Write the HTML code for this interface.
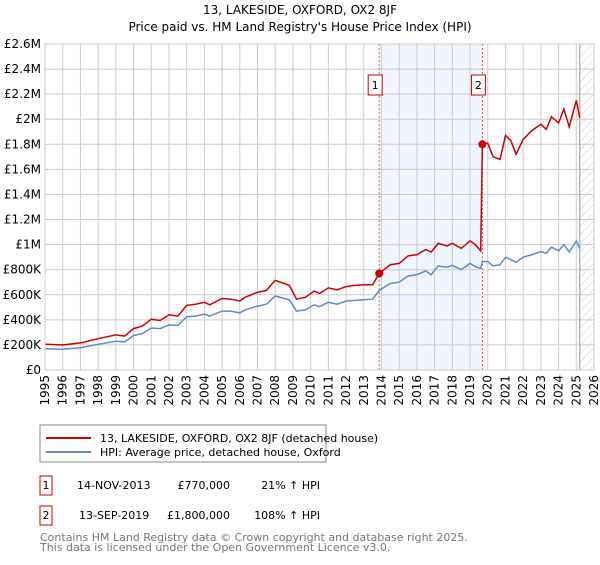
<!DOCTYPE html>
<html><head><meta charset="utf-8"><style>
body{margin:0;background:#fff;font-family:"Liberation Sans","DejaVu Sans",sans-serif;}
svg text{font-family:"DejaVu Sans","Liberation Sans",sans-serif;}
</style></head><body>
<svg id="c" width="600" height="560" xmlns="http://www.w3.org/2000/svg">
<defs><pattern id="hatch" width="6" height="6" patternUnits="userSpaceOnUse" patternTransform="rotate(45)"><line x1="0" y1="0" x2="0" y2="6" stroke="#ccc" stroke-width="1"/></pattern></defs>
<text x="300" y="14" text-anchor="middle" font-size="12">13, LAKESIDE, OXFORD, OX2 8JF</text>
<text x="300" y="31" text-anchor="middle" font-size="12">Price paid vs. HM Land Registry's House Price Index (HPI)</text>
<g id="plot"></g>
<rect x="40" y="425" width="286" height="37" fill="#fff" stroke="#888"/>
<line x1="46" y1="438" x2="91" y2="438" stroke="#cc0000" stroke-width="2"/>
<text x="100" y="442" font-size="11">13, LAKESIDE, OXFORD, OX2 8JF (detached house)</text>
<line x1="46" y1="452" x2="91" y2="452" stroke="#5b8bd0" stroke-width="2"/>
<text x="100" y="456" font-size="11">HPI: Average price, detached house, Oxford</text>
<g font-size="11">
<rect x="40" y="476" width="12" height="19" fill="#fff" stroke="#cc0000"/>
<text x="46" y="489" text-anchor="middle">1</text>
<text x="77" y="489">14-NOV-2013</text>
<text x="230" y="489" text-anchor="end">£770,000</text>
<text x="320" y="489" text-anchor="end">21% ↑ HPI</text>
<rect x="40" y="506" width="12" height="19" fill="#fff" stroke="#cc0000"/>
<text x="46" y="519" text-anchor="middle">2</text>
<text x="79" y="519">13-SEP-2019</text>
<text x="230" y="519" text-anchor="end">£1,800,000</text>
<text x="320" y="519" text-anchor="end">108% ↑ HPI</text>
</g>
<text x="40" y="541" font-size="11" fill="#777">Contains HM Land Registry data © Crown copyright and database right 2025.</text>
<text x="40" y="551" font-size="11" fill="#777">This data is licensed under the Open Government Licence v3.0.</text>
</svg>
<script>
const dates=[1995,1996,1997,1998,1999,1999.5,2000,2000.5,2001,2001.5,2002,2002.5,2003,2003.5,2004,2004.3,2005,2005.5,2006,2006.3,2007,2007.5,2008,2008.5,2008.8,2009.2,2009.7,2010.2,2010.5,2011,2011.5,2012,2012.5,2013,2013.5,2013.87,2014.5,2015,2015.5,2016,2016.5,2016.8,2017.2,2017.7,2018,2018.5,2019,2019.3,2019.6,2019.7,2020,2020.3,2020.7,2021,2021.3,2021.6,2022,2022.5,2023,2023.3,2023.6,2024,2024.3,2024.6,2025,2025.2];
const hpi=[170,165,178,205,230,225,275,290,335,330,360,355,425,430,445,430,470,470,455,480,510,525,590,570,560,470,480,520,505,540,525,550,555,560,565,636,690,700,750,760,790,760,830,820,835,800,850,825,810,865,865,830,840,900,880,860,900,920,945,930,980,950,1000,940,1030,970];
const property=[206,200,215,250,280,270,330,350,405,395,440,430,515,525,540,520,570,565,550,580,620,635,715,690,675,565,580,630,610,655,640,665,675,680,680,770,840,850,910,920,960,940,1010,990,1010,970,1030,1000,950,1800,1810,1700,1680,1870,1830,1720,1840,1910,1960,1920,2020,1970,2080,1940,2150,2010];
const salesX=[2013.87,2019.7];
const salesY=[770,1800];
const yTicks=[0,200,400,600,800,1000,1200,1400,1600,1800,2000,2200,2400,2600];
const yLabels=["£0","£200K","£400K","£600K","£800K","£1M","£1.2M","£1.4M","£1.6M","£1.8M","£2M","£2.2M","£2.4M","£2.6M"];
const xYears=[1995,1996,1997,1998,1999,2000,2001,2002,2003,2004,2005,2006,2007,2008,2009,2010,2011,2012,2013,2014,2015,2016,2017,2018,2019,2020,2021,2022,2023,2024,2025,2026];
const X0=45,X1=594,Y0=370,Y1=44;
const sx=v=>X0+(v-1995)/31*(X1-X0);
const sy=v=>Y0-v/2600*(Y0-Y1);
const NS="http://www.w3.org/2000/svg";
const g=document.getElementById('plot');
function mk(t,a){const e=document.createElementNS(NS,t);for(const k in a)e.setAttribute(k,a[k]);g.appendChild(e);return e;}
let e=mk('rect',{x:sx(salesX[0]),y:Y1,width:sx(salesX[1])-sx(salesX[0]),height:Y0-Y1,fill:'#eef2fc',opacity:0.8});


e=mk('rect',{x:sx(2025.2),y:Y1,width:X1-sx(2025.2),height:Y0-Y1,fill:'url(#hatch)'});


yTicks.forEach((t,i)=>{
 let l=mk('line',{x1:X0,x2:X1,y1:sy(t),y2:sy(t),stroke:'#ccc','stroke-width':1});
 
 
 let tx=mk('text',{x:X0-4,y:sy(t)+4,'text-anchor':'end','font-size':12});
 tx.textContent=yLabels[i];
 
 
});
xYears.forEach(yr=>{
 let l=mk('line',{x1:sx(yr),x2:sx(yr),y1:Y1,y2:Y0,stroke:'#ccc','stroke-width':1});
 
 
 const lx=sx(yr)+4, ly=Y0+5;
 let tx=mk('text',{x:lx,y:ly,'text-anchor':'end','font-size':12,transform:'rotate(-90 '+lx.toFixed(1)+' '+ly+')'});
 tx.textContent=yr;
 
 
});
e=mk('line',{x1:sx(2025.2),x2:sx(2025.2),y1:Y1,y2:Y0,stroke:'#999','stroke-width':1});


salesX.forEach((d,i)=>{
 let l=mk('line',{x1:sx(d),x2:sx(d),y1:Y1,y2:Y0,stroke:'#e06060','stroke-width':1,'stroke-dasharray':'2,2'});
 
 
});
const pts=a=>a.map((v,i)=>sx(dates[i]).toFixed(1)+','+sy(v).toFixed(1)).join(' ');
e=mk('polyline',{points:pts(hpi),fill:'none',stroke:'#5b8bd0','stroke-width':1.5});


e=mk('polyline',{points:pts(property),fill:'none',stroke:'#cc0000','stroke-width':1.5});


salesX.forEach((d,i)=>{
 let c=mk('circle',{cx:sx(d),cy:sy(salesY[i]),r:4,fill:'#cc0000'});
 
 
 let bx=sx(d)-4;
 let r=mk('rect',{x:bx-7,y:75,width:14,height:20,fill:'#fff',stroke:'#cc0000'});
 
 
 let t=mk('text',{x:bx,y:89,'text-anchor':'middle','font-size':11});
 t.textContent=String(i+1);
 
 
});
e=mk('rect',{x:X0,y:Y1,width:X1-X0,height:Y0-Y1,fill:'none',stroke:'#ccc'});


</script>
</body></html>
